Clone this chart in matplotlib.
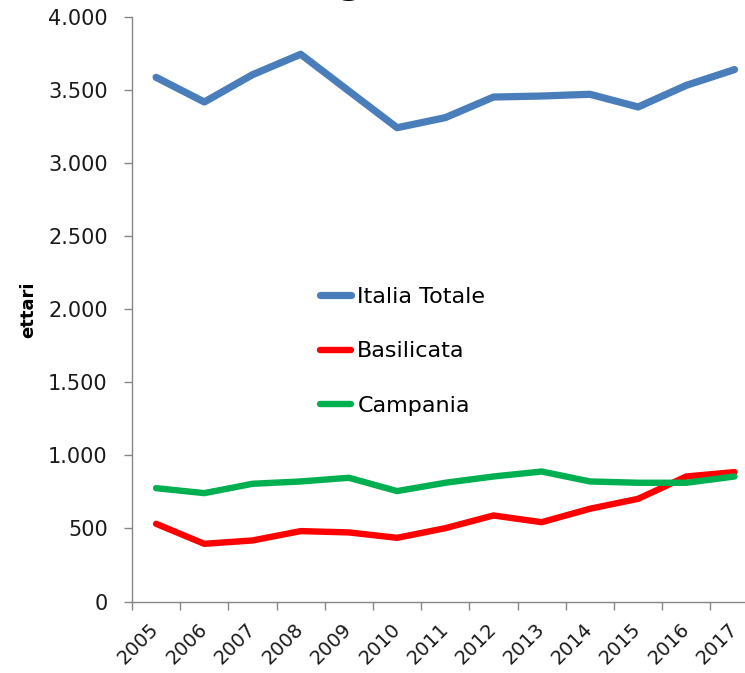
import matplotlib
matplotlib.use("Agg")
import matplotlib.pyplot as plt
from matplotlib.ticker import FuncFormatter, FixedLocator

# data (ettari)
years = ["2005", "2006", "2007", "2008", "2009", "2010", "2011",
         "2012", "2013", "2014", "2015", "2016", "2017"]
italia = [3589, 3420, 3607, 3747, 3495, 3244, 3313, 3454, 3461, 3473, 3386, 3534, 3642]
basilicata = [532, 395, 418, 482, 473, 436, 502, 589, 543, 635, 703, 856, 886]
campania = [776, 742, 806, 822, 847, 756, 813, 856, 890, 822, 813, 813, 856]
series_names = ["Italia Totale", "Basilicata", "Campania"]
series_colors = ["#4A7EBB", "#FF0000", "#00B050"]

fig = plt.figure(figsize=(7.45, 6.73), dpi=100)
# axes runs past the right edge, like the cropped original
ax = fig.add_axes([132 / 745, 1 - 601.5 / 673, 626.6 / 745, 584.2 / 673])

x = list(range(len(years)))
for vals, name, col, lw in zip([italia, basilicata, campania], series_names,
                               series_colors, [5.2, 4.6, 4.6]):
    ax.plot(x, vals, color=col, lw=lw, label=name,
            solid_capstyle="round", solid_joinstyle="round", clip_on=False)

ax.set_xlim(-0.5, len(years) - 0.5)
ax.set_ylim(0, 4000)
ax.set_yticks(range(0, 4001, 500))
ax.yaxis.set_major_formatter(FuncFormatter(lambda v, p: f"{v:,.0f}".replace(",", ".")))

ax.set_xticks(x)
ax.set_xticklabels(years, rotation=45, ha="right", va="center", rotation_mode="anchor")
ax.xaxis.set_minor_locator(FixedLocator([i - 0.5 for i in range(len(years) + 1)]))

grey = "#868686"
for s in ["top", "right"]:
    ax.spines[s].set_visible(False)
for s in ["left", "bottom"]:
    ax.spines[s].set_color(grey)
    ax.spines[s].set_linewidth(1.0)

ax.tick_params(axis="y", direction="out", length=5.5, width=1.0, color=grey,
               pad=12, labelsize=15, labelcolor="#1a1a1a")
ax.tick_params(axis="x", which="major", length=0, pad=18, labelsize=14,
               labelcolor="#1a1a1a")
ax.tick_params(axis="x", which="minor", direction="out", length=5.5, width=1.0,
               color=grey)

ax.set_ylabel("ettari", fontsize=13, fontweight="bold")
ax.yaxis.set_label_coords(-0.152, 0.5)

ax.legend(loc="center left", bbox_to_anchor=(0.300, 0.428), frameon=False,
          fontsize=16, handlelength=1.4, handletextpad=0.28, labelspacing=1.55,
          borderpad=0, borderaxespad=0)

# only the descender of the cropped title shows at the top
fig.text(350 / 745, 1 + 7 / 673, "g", ha="center", va="baseline",
         fontsize=27, fontweight="bold")

fig.savefig("out.png", dpi=100)
